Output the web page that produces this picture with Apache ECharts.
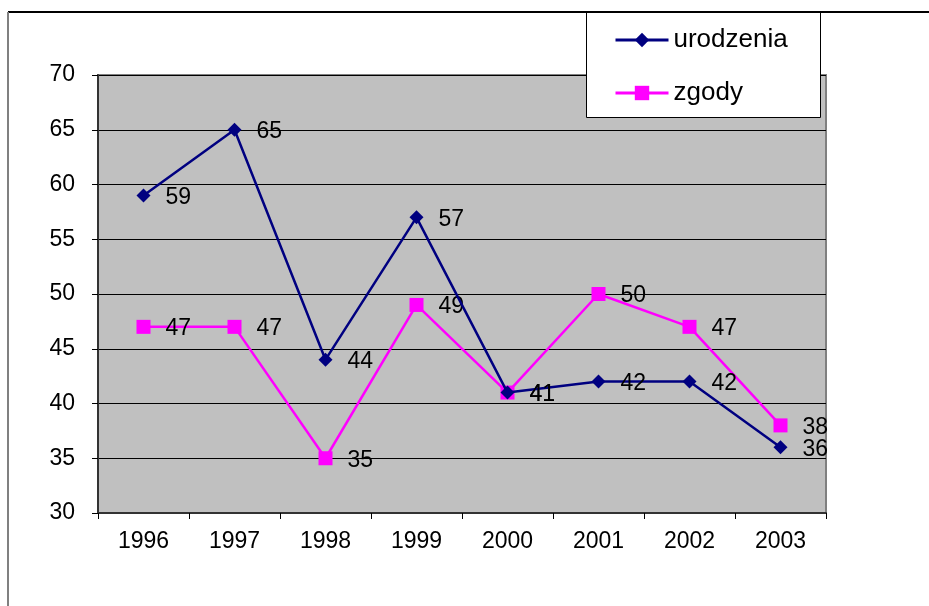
<!DOCTYPE html>
<html>
<head>
<meta charset="utf-8">
<script src="https://cdn.jsdelivr.net/npm/echarts@6/dist/echarts.min.js"></script>
<style>
  html, body { margin: 0; padding: 0; background: #fff; }
  #chart { width: 929px; height: 606px; }
</style>
</head>
<body>
<div id="chart"></div>
<script>
// lata i dwie serie z wykresu
const years = ['1996', '1997', '1998', '1999', '2000', '2001', '2002', '2003'];
const urodzenia = [59, 65, 44, 57, 41, 42, 42, 36];
const zgody = [47, 47, 35, 49, 41, 50, 47, 38];

const FONT = '"Liberation Sans", Arial, sans-serif';
const chart = echarts.init(document.getElementById('chart'), null, { renderer: 'canvas' });

const pointLabel = {
  show: true,
  position: 'right',
  distance: 15,
  offset: [0, 2],
  color: '#000',
  fontSize: 23,
  fontFamily: FONT
};

chart.setOption({
  backgroundColor: '#fff',
  animation: false,
  grid: {
    left: 98, right: 103, top: 75, bottom: 93,
    show: true,
    backgroundColor: '#C0C0C0',
    borderColor: '#808080',
    borderWidth: 2
  },
  graphic: [
    // ramka wykresu (góra i lewa krawędź)
    { type: 'line', z: 100, shape: { x1: 8, y1: 12, x2: 929, y2: 12 }, style: { stroke: '#000', lineWidth: 2 } },
    { type: 'line', z: 100, shape: { x1: 8, y1: 12, x2: 8, y2: 606 }, style: { stroke: '#808080', lineWidth: 2 } },
    // ramka legendy
    { type: 'rect', z: 50, shape: { x: 586.5, y: 12.5, width: 234, height: 105 }, style: { fill: '#fff', stroke: '#000', lineWidth: 1 } }
  ],
  legend: {
    orient: 'vertical',
    left: 614,
    top: 26,
    padding: 0,
    itemWidth: 53,
    itemHeight: 18,
    itemGap: 25,
    z: 60,
    lineStyle: { width: 3 },
    textStyle: { fontSize: 26, lineHeight: 28, color: '#000', fontFamily: FONT },
    data: ['urodzenia', 'zgody']
  },
  xAxis: {
    type: 'category',
    data: years,
    boundaryGap: true,
    axisLine: { lineStyle: { color: '#333', width: 2 } },
    axisTick: { show: true, length: 6, inside: false, lineStyle: { color: '#000' } },
    axisLabel: { color: '#000', fontSize: 23, margin: 17, fontFamily: FONT },
    splitLine: { show: false }
  },
  yAxis: {
    type: 'value',
    min: 30,
    max: 70,
    interval: 5,
    axisLine: { show: true, lineStyle: { color: '#333', width: 2 } },
    axisTick: { show: true, length: 6, lineStyle: { color: '#000' } },
    axisLabel: { color: '#000', fontSize: 23, margin: 23, fontFamily: FONT },
    splitLine: { show: true, lineStyle: { color: '#000', width: 1 } }
  },
  series: [
    {
      name: 'urodzenia',
      type: 'line',
      data: urodzenia,
      symbol: 'diamond',
      symbolSize: 14,
      color: '#000080',
      lineStyle: { width: 2.5, color: '#000080' },
      itemStyle: { color: '#000080' },
      label: pointLabel,
      z: 3
    },
    {
      name: 'zgody',
      type: 'line',
      data: zgody,
      symbol: 'rect',
      symbolSize: 14,
      color: '#FF00FF',
      lineStyle: { width: 2.5, color: '#FF00FF' },
      itemStyle: { color: '#FF00FF' },
      label: pointLabel,
      z: 2
    }
  ]
});
</script>
</body>
</html>
